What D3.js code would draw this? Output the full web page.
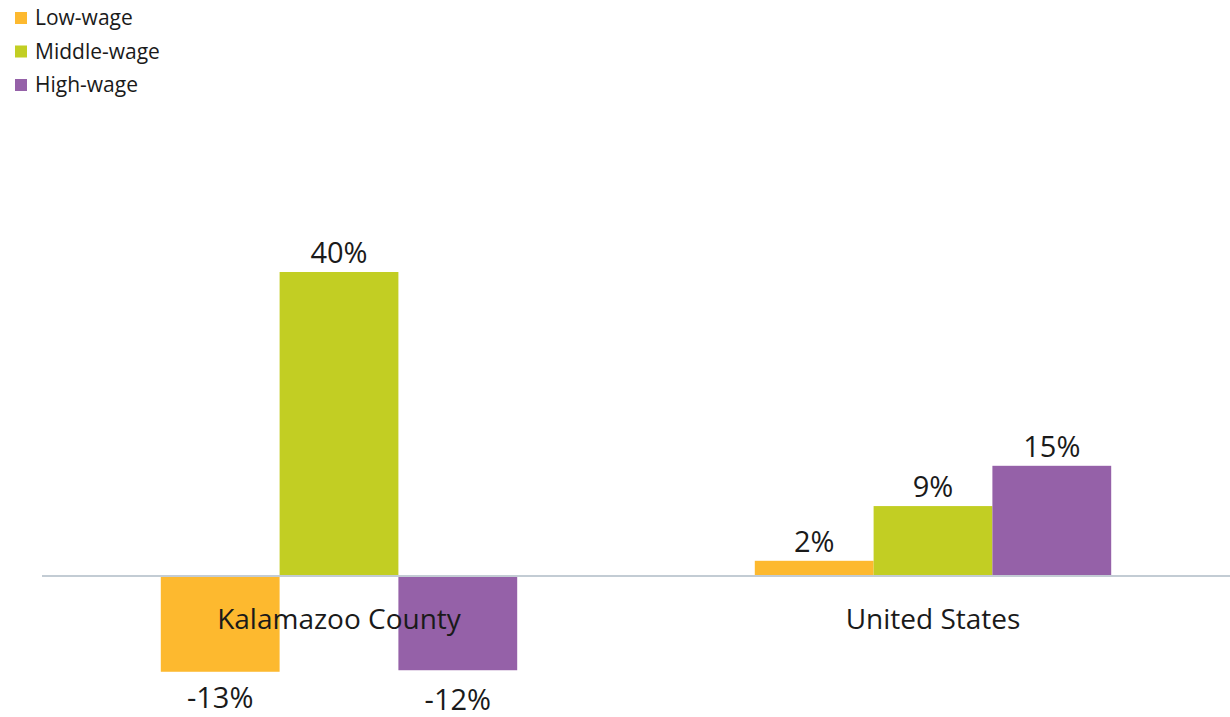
<!DOCTYPE html>
<html>
<head>
<meta charset="utf-8">
<script src="https://cdn.jsdelivr.net/npm/d3@7"></script>
<style>
  body { margin: 0; background: #fff; }
  svg text { font-family: 'Open Sans', sans-serif; fill: #1a1a1a; }
</style>
</head>
<body>
<div id="chart"></div>
<script>
var categories = ['Kalamazoo County', 'United States'];
var seriesNames = ['Low-wage', 'Middle-wage', 'High-wage'];
var seriesColors = ['#fdb92f', '#c2ce23', '#9561a8'];
var lowWage = [-12.6, 2.0];
var middleWage = [40.0, 9.2];
var highWage = [-12.4, 14.5];
var labelText = [['-13%', '2%'], ['40%', '9%'], ['-12%', '15%']];

var width = 1230;
var height = 717;
var margin = {left: 42, right: 0};

var series = [lowWage, middleWage, highWage];

var svg = d3.select('#chart').append('svg')
  .attr('width', width)
  .attr('height', height);

var x0 = d3.scaleBand()
  .domain(categories)
  .range([margin.left, width - margin.right])
  .paddingInner(0.4)
  .paddingOuter(0.2);

var x1 = d3.scaleBand()
  .domain(d3.range(seriesNames.length))
  .range([0, x0.bandwidth()]);

var y = d3.scaleLinear().domain([-15, 45]).range([690, 234]);

// bars
var groups = svg.selectAll('.group').data(categories).enter()
  .append('g')
  .attr('class', 'group')
  .attr('transform', function(c) { return 'translate(' + x0(c) + ',0)'; });

groups.selectAll('rect')
  .data(function(c, ci) {
    return series.map(function(s, si) { return {si: si, ci: ci, v: s[ci]}; });
  })
  .enter().append('rect')
  .attr('x', function(d) { return x1(d.si); })
  .attr('width', x1.bandwidth())
  .attr('y', function(d) { return y(Math.max(0, d.v)); })
  .attr('height', function(d) { return Math.abs(y(d.v) - y(0)); })
  .attr('fill', function(d) { return seriesColors[d.si]; });

// zero line
svg.append('line')
  .attr('x1', margin.left)
  .attr('x2', width)
  .attr('y1', y(0))
  .attr('y2', y(0))
  .attr('stroke', '#c3ccd4')
  .attr('stroke-width', 2);

// category labels
svg.selectAll('.cat').data(categories).enter()
  .append('text')
  .attr('class', 'cat')
  .attr('x', function(c) { return x0(c) + x0.bandwidth() / 2; })
  .attr('y', y(0) + 53)
  .attr('text-anchor', 'middle')
  .style('font-size', '28px')
  .text(function(c) { return c; });

// value labels
groups.selectAll('.val')
  .data(function(c, ci) {
    return series.map(function(s, si) { return {si: si, ci: ci, v: s[ci]}; });
  })
  .enter().append('text')
  .attr('class', 'val')
  .attr('x', function(d) { return x1(d.si) + x1.bandwidth() / 2; })
  .attr('y', function(d) { return d.v >= 0 ? y(d.v) - 9 : y(d.v) + 36 + d.si * 2; })
  .attr('text-anchor', 'middle')
  .style('font-size', '29px')
  .text(function(d) { return labelText[d.si][d.ci]; });

// legend
var legend = svg.selectAll('.legend').data(seriesNames).enter()
  .append('g')
  .attr('class', 'legend')
  .attr('transform', function(d, i) { return 'translate(15,' + (12 + i * 33.5) + ')'; });

legend.append('rect')
  .attr('width', 12)
  .attr('height', 12)
  .attr('fill', function(d, i) { return seriesColors[i]; });

legend.append('text')
  .attr('x', 20)
  .attr('y', 13)
  .style('font-size', '21px')
  .text(function(d) { return d; });
</script>
</body>
</html>
